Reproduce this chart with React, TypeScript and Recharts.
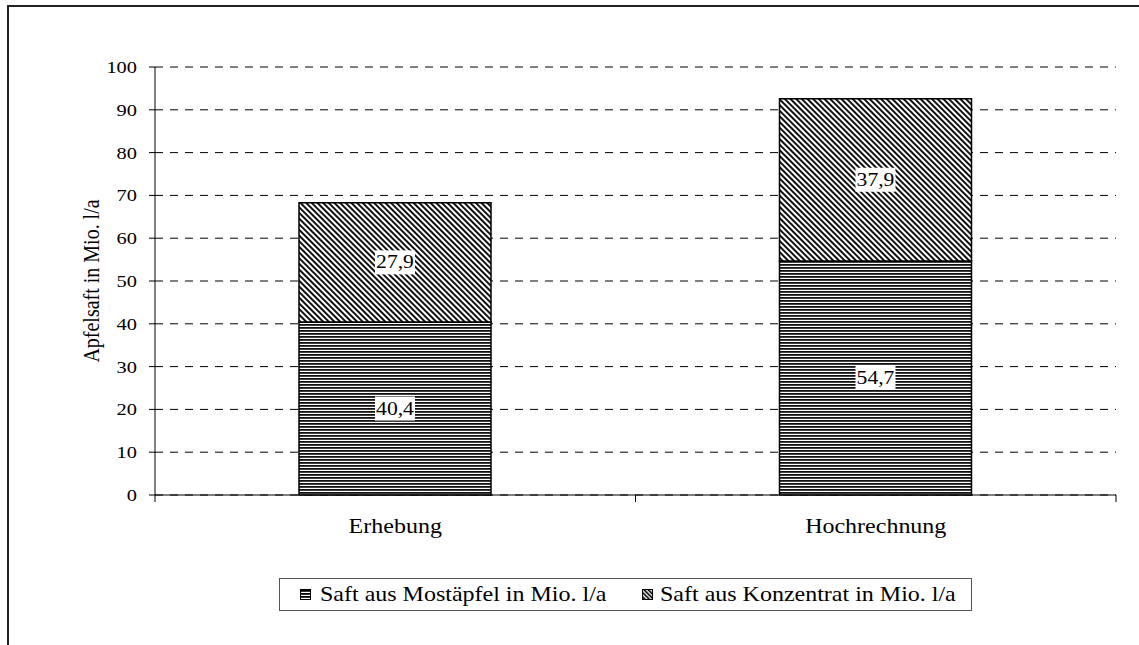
import React from 'react';
import { BarChart, Bar, XAxis, YAxis, CartesianGrid, Legend, LabelList } from 'recharts';

const categories = ['Erhebung', 'Hochrechnung'];
const mostaepfel = [40.4, 54.7];
const konzentrat = [27.9, 37.9];
const yTicks = [0, 10, 20, 30, 40, 50, 60, 70, 80, 90, 100];
const seriesNames = ['Saft aus Mostäpfel in Mio. l/a', 'Saft aus Konzentrat in Mio. l/a'];
const yTitle = 'Apfelsaft in Mio. l/a';

const data = categories.map((name, i) => ({ name, most: mostaepfel[i], konz: konzentrat[i] }));

const FONT = '"Liberation Serif", "Times New Roman", serif';
// the original is a little wider than tall, so text gets stretched sideways
const SX = 1.2;

const fmt = (v: number) => String(v).replace('.', ',');

const WideText = ({ x, y, size, anchor = 'middle', children }: any) => (
  <text
    transform={`translate(${x},${y}) scale(${SX},1)`}
    textAnchor={anchor}
    fontFamily={FONT}
    fontSize={size}
    fill="#000"
  >
    {children}
  </text>
);

// white boxed value label in the middle of a segment
const ValueLabel = (props: any) => {
  const { x, y, width, height, value } = props;
  const cx = x + width / 2;
  const cy = y + height / 2;
  return (
    <g>
      <rect x={cx - 20} y={cy - 12} width={40} height={24} fill="#fff" />
      <WideText x={cx} y={cy + 6} size={18}>{fmt(value)}</WideText>
    </g>
  );
};

// category label plus tick marks on the band edges
const CategoryTick = (props: any) => {
  const { x, y, payload, index } = props;
  const half = payload && payload.offset ? payload.offset : 240;
  return (
    <g>
      <line x1={x - half} y1={y - 8} x2={x - half} y2={y - 1} stroke="#000" />
      {index === categories.length - 1 && (
        <line x1={x + half} y1={y - 8} x2={x + half} y2={y - 1} stroke="#000" />
      )}
      <WideText x={x} y={y + 30} size={20}>{payload.value}</WideText>
    </g>
  );
};

const ValueTick = (props: any) => {
  const { x, y, payload } = props;
  return <WideText x={x} y={y + 6} size={17} anchor="end">{payload.value}</WideText>;
};

const YTitle = (props: any) => {
  const { viewBox } = props;
  const cx = 91;
  const cy = viewBox.y + viewBox.height / 2;
  return (
    <text
      transform={`translate(${cx},${cy}) scale(${SX},1) rotate(-90)`}
      textAnchor="middle"
      dominantBaseline="central"
      fontFamily={FONT}
      fontSize={20}
      fill="#000"
    >
      {yTitle}
    </text>
  );
};

const LegendBox = () => (
  <svg width={693} height={33} style={{ display: 'block' }}>
    <defs>
      <pattern id="lg-h" width={3} height={3} patternUnits="userSpaceOnUse">
        <rect x={0} y={0} width={3} height={1.8} fill="#000" />
      </pattern>
      <pattern id="lg-d" width={3} height={3} patternUnits="userSpaceOnUse" patternTransform="rotate(-45)">
        <rect x={0} y={0} width={1.6} height={3} fill="#000" />
      </pattern>
    </defs>
    <rect x={0.5} y={0.5} width={692} height={32} fill="#fff" stroke="#555" />
    <rect x={21.5} y={11.5} width={10} height={10} fill="url(#lg-h)" stroke="#000" />
    <WideText x={41} y={23} size={20} anchor="start">{seriesNames[0]}</WideText>
    <rect x={363.5} y={11.5} width={10} height={10} fill="url(#lg-d)" stroke="#000" />
    <WideText x={381} y={23} size={20} anchor="start">{seriesNames[1]}</WideText>
  </svg>
);

export default function App() {
  return (
    <div style={{ position: 'absolute', left: 0, top: 0, width: 1139, height: 645, overflow: 'hidden', background: '#fff' }}>
      <div
        style={{
          position: 'absolute',
          left: 7,
          top: 5,
          width: 1132,
          height: 640,
          boxSizing: 'border-box',
          borderTop: '2px solid #222',
          borderLeft: '2px solid #222',
        }}
      />
      <div style={{ position: 'absolute', left: 0, top: 0 }}>
        <BarChart
          width={1139}
          height={645}
          data={data}
          barSize={192}
          margin={{ top: 67, right: 23, bottom: 57, left: 95 }}
        >
          <defs>
            <pattern id="hstripes" width={4} height={3} patternUnits="userSpaceOnUse">
              <rect x={0} y={0} width={4} height={3} fill="#fff" />
              <rect x={0} y={0} width={4} height={1.8} fill="#111" />
            </pattern>
            <pattern id="dstripes" width={4} height={4} patternUnits="userSpaceOnUse" patternTransform="rotate(-45)">
              <rect x={0} y={0} width={4} height={4} fill="#fff" />
              <rect x={0} y={0} width={2} height={4} fill="#111" />
            </pattern>
          </defs>
          <CartesianGrid vertical={false} stroke="#000" strokeDasharray="8 7" />
          <XAxis
            dataKey="name"
            stroke="#000"
            tickLine={false}
            tick={<CategoryTick />}
            height={60}
          />
          <YAxis
            width={60}
            domain={[0, 100]}
            ticks={yTicks}
            interval={0}
            stroke="#000"
            tickSize={6}
            tickMargin={12}
            tick={<ValueTick />}
            label={<YTitle />}
          />
          <Legend
            content={<LegendBox />}
            wrapperStyle={{ position: 'absolute', left: 279, top: 578, width: 693, height: 33, bottom: 'auto' }}
          />
          <Bar dataKey="most" stackId="a" fill="url(#hstripes)" stroke="#000" strokeWidth={1.5} isAnimationActive={false}>
            <LabelList dataKey="most" content={<ValueLabel />} />
          </Bar>
          <Bar dataKey="konz" stackId="a" fill="url(#dstripes)" stroke="#000" strokeWidth={1.5} isAnimationActive={false}>
            <LabelList dataKey="konz" content={<ValueLabel />} />
          </Bar>
        </BarChart>
      </div>
    </div>
  );
}
